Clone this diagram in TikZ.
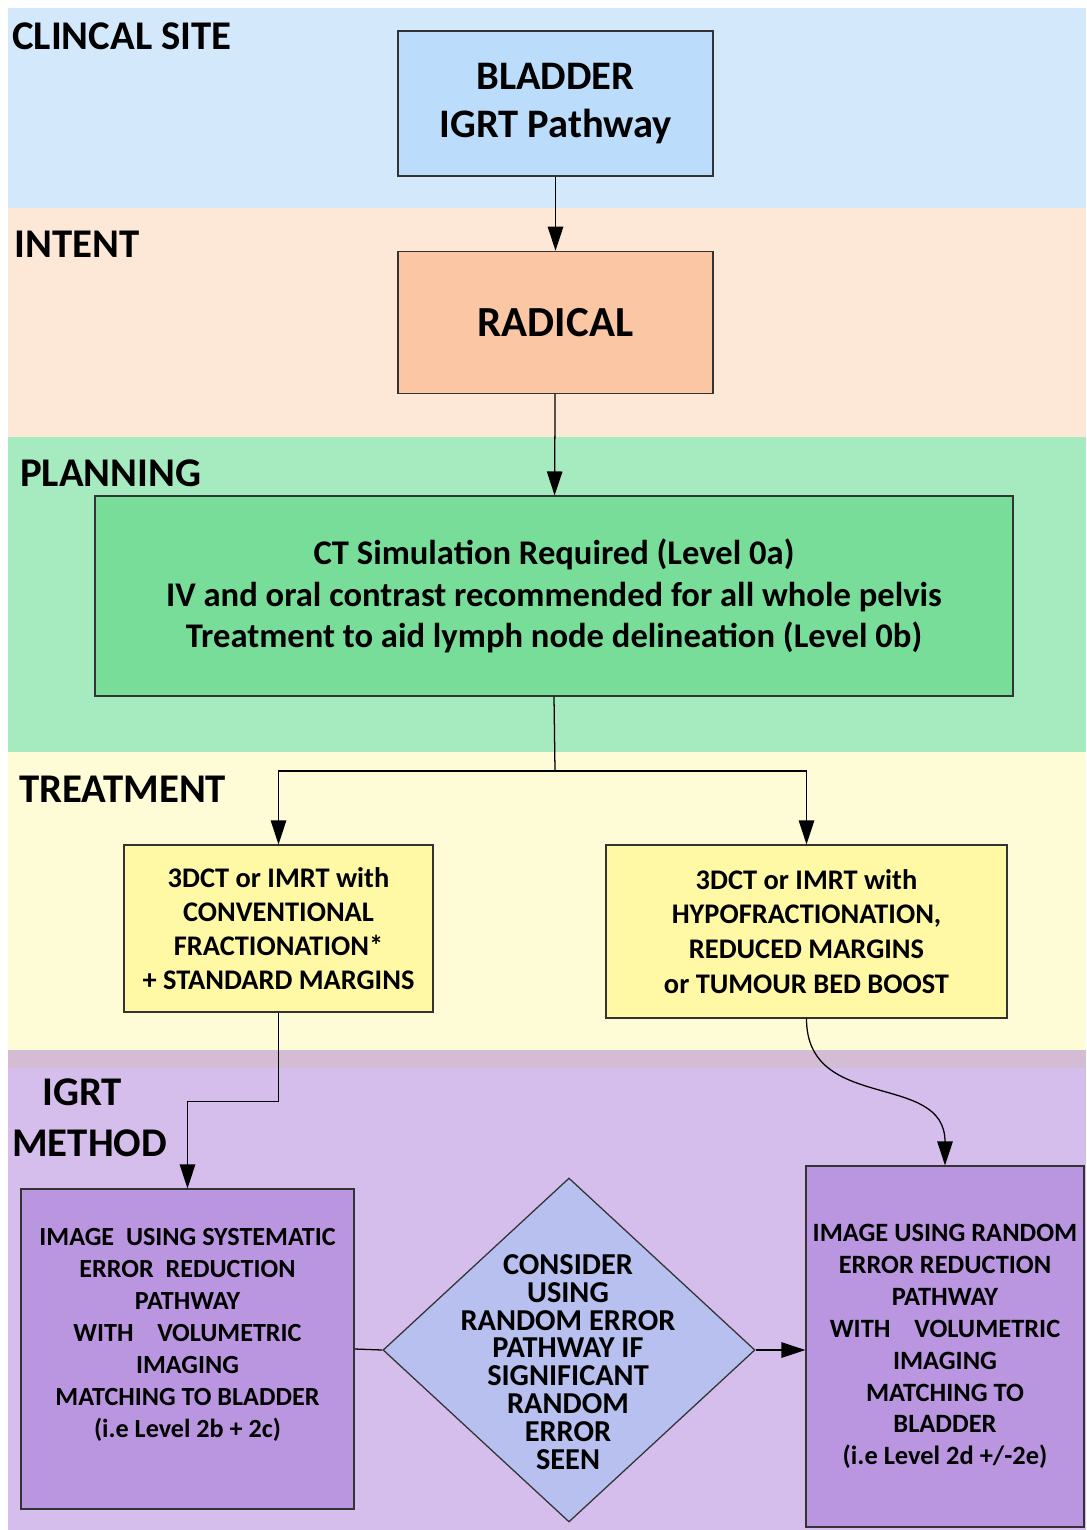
\documentclass[tikz,border=0pt]{standalone}
\usepackage{fontspec}
\setmainfont{Carlito}
\usetikzlibrary{arrows.meta,%
                shapes.geometric,positioning}
\newcommand{\pxu}{0.025cm}
\definecolor{siteband}{HTML}{D4E8FC}
\definecolor{sitebox}{HTML}{BBDDFB}
\definecolor{intentband}{HTML}{FDE7D6}
\definecolor{intentbox}{HTML}{FBC6A4}
\definecolor{planband}{HTML}{A6EAC0}
\definecolor{planbox}{HTML}{77DD99}
\definecolor{treatband}{HTML}{FEFCD6}
\definecolor{treatbox}{HTML}{FFF9A6}
\definecolor{stripe}{HTML}{D5BCD5}
\definecolor{methodband}{HTML}{D5BDEC}
\definecolor{methodbox}{HTML}{B996DF}
\definecolor{considerbox}{HTML}{B7C0EF}

\begin{document}
\begin{tikzpicture}[x = 0.025cm, y = -0.025cm]
  \useasboundingbox (0,0) rectangle (1086,1530);
  \tikzset{BoxStyle/.style    = {draw           = black!80,
                                 line width     = 0.9pt,
                                 align          = center,
                                 inner sep      = 0pt,
                                 text           = black}}
  \tikzset{ArrowStyle/.style  = {line width     = 0.9pt,
                                 -{Triangle[length=17pt,width=11pt]}}}
  \tikzset{BandLabelStyle/.style = {anchor     = base west,
                                 inner sep      = 0pt,
                                 font           = \fontsize{29}{34}\selectfont\bfseries}}
  % bands
  \fill[siteband]   (8,8)    rectangle (1086,208);
  \fill[intentband] (8,208)  rectangle (1086,437);
  \fill[planband]   (8,437)  rectangle (1086,752);
  \fill[treatband]  (8,752)  rectangle (1086,1050);
  \fill[stripe]     (8,1050) rectangle (1086,1068);
  \fill[methodband] (8,1068) rectangle (1086,1530);

  \node[BandLabelStyle] (lsite)   at (12,50)   {CLINCAL SITE};
  \node[BandLabelStyle] (lintent) at (14,258)  {INTENT};
  \node[BandLabelStyle] (lplan)   at (20,486)  {PLANNING};
  \node[BandLabelStyle] (ltreat)  at (19,802)  {TREATMENT};
  \node[BandLabelStyle] (ligrt)   at (42,1105) {IGRT};
  \node[BandLabelStyle] (lmethod) at (12,1156) {METHOD};

  % boxes
  \node[BoxStyle, fill=sitebox, minimum width={315*\pxu}, minimum height={145*\pxu},
        font=\fontsize{28.8}{34.7}\selectfont\bfseries]
        (bladder) at (555.5,103.5) {BLADDER\\IGRT Pathway};
  \node[BoxStyle, fill=intentbox, minimum width={315*\pxu}, minimum height={142*\pxu},
        font=\fontsize{30.5}{36}\selectfont\bfseries,
        below = {74*\pxu} of bladder] (radical) {RADICAL};
  \node[BoxStyle, fill=planbox, minimum width={918*\pxu}, minimum height={200*\pxu},
        font=\fontsize{24.6}{29.4}\selectfont\bfseries]
        (ct) at (554,596) {CT Simulation Required (Level 0a)\\
        IV and oral contrast recommended for all whole pelvis\\
        Treatment to aid lymph node delineation (Level 0b)};
  \node[BoxStyle, fill=treatbox, minimum width={309*\pxu}, minimum height={167*\pxu},
        font=\fontsize{20.2}{24.2}\selectfont\bfseries]
        (conv) at (278.5,928.5) {3DCT or IMRT with\\CONVENTIONAL\\FRACTIONATION*\\+ STANDARD MARGINS};
  \node[BoxStyle, fill=treatbox, minimum width={401*\pxu}, minimum height={173*\pxu},
        font=\fontsize{20.2}{24.8}\selectfont\bfseries]
        (hypo) at (806.5,931.5) {3DCT or IMRT with\\HYPOFRACTIONATION,\\REDUCED MARGINS\\or TUMOUR BED BOOST};
  \node[BoxStyle, fill=methodbox, minimum width={333*\pxu}, minimum height={320*\pxu},
        font=\fontsize{18.6}{22.7}\selectfont\bfseries]
        (sys) at (187.5,1349) {IMAGE~ USING SYSTEMATIC\\ERROR~ REDUCTION\\PATHWAY\\WITH~~~ VOLUMETRIC\\IMAGING\\MATCHING TO BLADDER\\(i.e Level 2b + 2c)\\~};
  \node[BoxStyle, fill=considerbox, shape=diamond, minimum width={372*\pxu},
        minimum height={344*\pxu}] (consider) at (569,1350) {};
  \node[align=center, inner sep=0pt, font=\fontsize{21.6}{19.8}\selectfont\bfseries]
        (considertext) at (568,1362) {CONSIDER\\USING\\RANDOM ERROR\\PATHWAY IF\\SIGNIFICANT\\RANDOM\\ERROR\\SEEN};
  \node[BoxStyle, fill=methodbox, minimum width={278*\pxu}, minimum height={361*\pxu},
        font=\fontsize{18.8}{22.7}\selectfont\bfseries]
        (rand) at (945,1346.5) {IMAGE USING RANDOM\\ERROR REDUCTION\\PATHWAY\\WITH~~~ VOLUMETRIC\\IMAGING\\MATCHING TO\\BLADDER\\(i.e Level 2d +/-2e)};

  % connectors
  \coordinate (split) at (555,771);
  \draw[ArrowStyle] (bladder) -- (radical);
  \draw[ArrowStyle] (radical) -- (ct);
  \draw[line width=0.9pt] (ct.south) -- (split);
  \draw[ArrowStyle] (split) -| (conv.north);
  \draw[ArrowStyle] (split) -| (hypo.north);
  \draw[ArrowStyle] (conv.south) -- ++(0,89) -| (sys.north);
  \draw[ArrowStyle] (hypo.south) to[out=-90, in=90, looseness=1.2] (rand.north);
  \draw[line width=0.9pt] (sys.east) -- (consider.west);
  \draw[ArrowStyle] (consider.east) -- (consider.east -| rand.west);
\end{tikzpicture}
\end{document}
